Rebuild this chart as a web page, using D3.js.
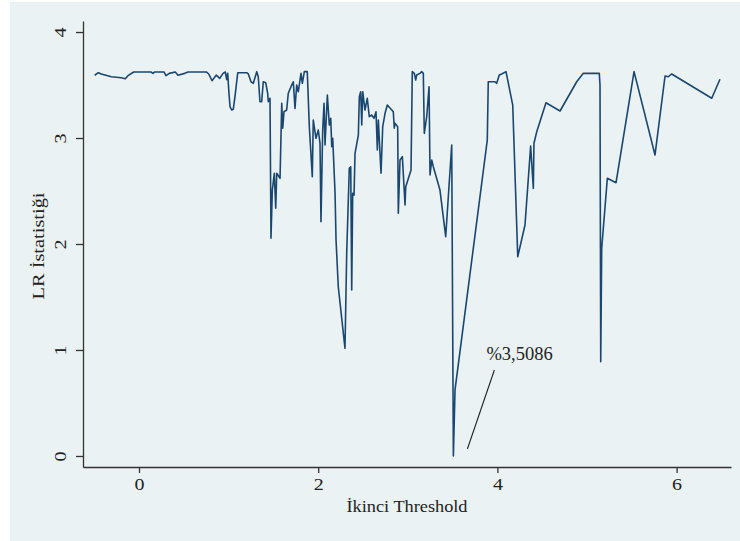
<!DOCTYPE html>
<html>
<head>
<meta charset="utf-8">
<script src="https://cdn.jsdelivr.net/npm/d3@7/dist/d3.min.js"></script>
<style>
  html, body { margin: 0; padding: 0; background: #ffffff; }
  svg { display: block; }
  text { font-family: "Liberation Serif", "Times New Roman", serif; fill: #222; }
</style>
</head>
<body>
<svg id="chart" width="740" height="541"></svg>
<script>
// ---- data ----
const thresholds = [
  -0.494, -0.454, -0.421, -0.309, -0.198, -0.153, -0.123, -0.059, 0.134, 0.156,
  0.175, 0.279, 0.301, 0.338, 0.405, 0.435, 0.510, 0.547, 0.751, 0.778,
  0.815, 0.863, 0.901, 0.938, 0.963, 0.979, 0.990, 1.004, 1.016, 1.035,
  1.052, 1.071, 1.102, 1.202, 1.220, 1.250, 1.276, 1.314, 1.331, 1.350,
  1.369, 1.387, 1.414, 1.436, 1.443, 1.462, 1.473, 1.488, 1.510, 1.526,
  1.537, 1.574, 1.593, 1.604, 1.618, 1.648, 1.666, 1.696, 1.722, 1.741,
  1.760, 1.778, 1.808, 1.823, 1.845, 1.878, 1.901, 1.934, 1.945, 1.975,
  2.001, 2.020, 2.031, 2.050, 2.065, 2.076, 2.102, 2.124, 2.140, 2.151,
  2.162, 2.188, 2.199, 2.224, 2.299, 2.318, 2.347, 2.363, 2.374, 2.385,
  2.400, 2.411, 2.448, 2.459, 2.474, 2.486, 2.497, 2.522, 2.548, 2.570,
  2.597, 2.623, 2.645, 2.660, 2.671, 2.701, 2.720, 2.746, 2.771, 2.838,
  2.849, 2.857, 2.887, 2.894, 2.913, 2.939, 2.969, 2.977, 3.036, 3.050,
  3.073, 3.088, 3.099, 3.136, 3.155, 3.173, 3.184, 3.211, 3.237, 3.248,
  3.267, 3.285, 3.359, 3.423, 3.490, 3.5086, 3.527, 3.887, 3.898, 3.973,
  3.992, 4.021, 4.048, 4.096, 4.171, 4.227, 4.308, 4.371, 4.401, 4.408,
  4.439, 4.542, 4.699, 4.885, 4.959, 5.137, 5.145, 5.153, 5.164, 5.227,
  5.324, 5.525, 5.759, 5.871, 5.907, 5.945, 6.392, 6.484
];
const lrStats = [
  3.592, 3.616, 3.604, 3.578, 3.569, 3.559, 3.588, 3.623, 3.623, 3.610,
  3.623, 3.623, 3.588, 3.610, 3.623, 3.592, 3.610, 3.623, 3.623, 3.604,
  3.541, 3.594, 3.563, 3.610, 3.623, 3.550, 3.610, 3.422, 3.295, 3.264,
  3.271, 3.390, 3.616, 3.616, 3.604, 3.531, 3.516, 3.626, 3.578, 3.342,
  3.342, 3.531, 3.522, 3.422, 3.342, 3.375, 2.054, 2.509, 2.667, 2.337,
  2.667, 2.620, 3.327, 3.092, 3.248, 3.264, 3.422, 3.484, 3.531, 3.280,
  3.500, 3.437, 3.610, 3.516, 3.626, 3.626, 3.107, 2.635, 3.170, 2.997,
  3.075, 2.950, 2.210, 3.075, 3.327, 2.934, 3.406, 3.123, 3.186, 2.918,
  2.997, 2.478, 2.038, 1.597, 1.016, 1.912, 2.714, 2.729, 1.566, 2.478,
  2.462, 2.856, 3.028, 3.390, 3.437, 3.123, 3.437, 3.264, 3.375, 3.201,
  3.217, 3.186, 3.248, 2.887, 3.170, 2.667, 3.107, 3.233, 3.311, 3.248,
  3.092, 3.139, 3.107, 2.290, 2.792, 2.824, 2.368, 2.541, 2.698, 3.626,
  3.610, 3.547, 3.594, 3.610, 3.626, 3.610, 3.044, 3.201, 3.484, 2.651,
  2.792, 2.729, 2.509, 2.069, 2.934, 0.000, 0.623, 2.981, 3.531, 3.531,
  3.516, 3.594, 3.604, 3.626, 3.311, 1.880, 2.179, 2.925, 2.525, 2.950,
  3.059, 3.333, 3.255, 3.531, 3.610, 3.610, 3.500, 0.890, 1.959, 2.620,
  2.578, 3.626, 2.840, 3.585, 3.578, 3.604, 3.375, 3.554
];
const xTickValues = [0, 2, 4, 6];
const yTickValues = [0, 1, 2, 3, 4];
const xTitle = "İkinci Threshold";
const yTitle = "LR İstatistiği";
const annotationText = "%3,5086";
const annotationPoint = [3.5086, 0.0];

// ---- drawing ----
const svg = d3.select("#chart");
const W = 740, H = 541;

svg.append("rect").attr("x", 10).attr("y", 2).attr("width", W - 10).attr("height", H - 2)
  .attr("fill", "#eaf2f3");

const x = d3.scaleLinear().domain([-0.625, 6.607]).range([83, 731]);
const y = d3.scaleLinear().domain([-0.104, 4.104]).range([467, 21]);

// line
const line = d3.line().x((d, i) => x(thresholds[i])).y((d, i) => y(lrStats[i]));
svg.append("path").datum(lrStats)
  .attr("d", line)
  .attr("fill", "none")
  .attr("stroke", "#1a476f")
  .attr("stroke-width", 1.6)
  .attr("stroke-linejoin", "round");

// x axis
const xAxis = svg.append("g").attr("transform", "translate(0,467)")
  .call(d3.axisBottom(x).tickValues(xTickValues).tickSize(6).tickSizeOuter(0).tickFormat(d3.format("d")));
xAxis.select(".domain").attr("stroke", "#333").attr("stroke-width", 1.3);
xAxis.selectAll(".tick line").attr("stroke", "#333").attr("stroke-width", 1.3);
xAxis.selectAll(".tick text")
  .attr("y", 0).attr("dy", null)
  .attr("transform", "translate(0,23) scale(1.25,1)")
  .style("font-size", "16px").style("font-family", "'Liberation Serif', serif").attr("fill", "#222");

// y axis
const yAxis = svg.append("g").attr("transform", "translate(83,0)")
  .call(d3.axisLeft(y).tickValues(yTickValues).tickSize(7).tickSizeOuter(0).tickFormat(d3.format("d")));
yAxis.select(".domain").attr("stroke", "#333").attr("stroke-width", 1.3);
yAxis.selectAll(".tick line").attr("stroke", "#333").attr("stroke-width", 1.3);
yAxis.selectAll(".tick text")
  .attr("x", 0).attr("dy", null).attr("text-anchor", "middle")
  .attr("transform", "translate(-17,0) rotate(-90) scale(1.25,1)")
  .style("font-size", "16px").style("font-family", "'Liberation Serif', serif").attr("fill", "#222");

// axis titles
svg.append("text")
  .attr("x", 407).attr("y", 512)
  .attr("text-anchor", "middle")
  .attr("textLength", 121).attr("lengthAdjust", "spacingAndGlyphs")
  .style("font-size", "16px")
  .text(xTitle);

svg.append("text")
  .attr("transform", "translate(44,246) rotate(-90)")
  .attr("text-anchor", "middle")
  .attr("textLength", 107).attr("lengthAdjust", "spacingAndGlyphs")
  .style("font-size", "16px")
  .text(yTitle);

// annotation
const ax = x(annotationPoint[0]), ay = y(annotationPoint[1]);
svg.append("line")
  .attr("x1", ax + 14).attr("y1", ay - 7)
  .attr("x2", ax + 41).attr("y2", ay - 86)
  .attr("stroke", "#222").attr("stroke-width", 1.1);
svg.append("text")
  .attr("x", ax + 33).attr("y", ay - 96)
  .style("font-size", "18.5px")
  .text(annotationText);
</script>
</body>
</html>
